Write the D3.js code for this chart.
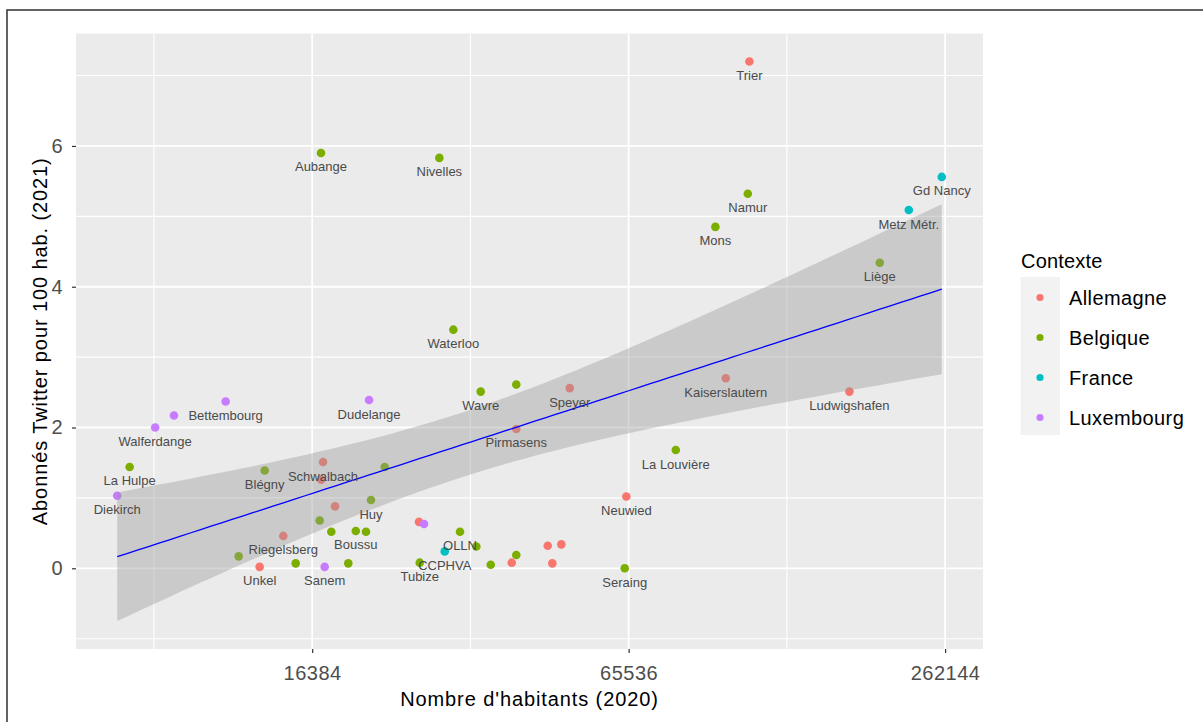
<!DOCTYPE html>
<html>
<head>
<meta charset="utf-8">
<script src="https://cdn.jsdelivr.net/npm/d3@7"></script>
<style>
  html, body { margin: 0; padding: 0; background: #ffffff; }
  svg { display: block; font-family: "Liberation Sans", Arial, sans-serif; }
</style>
</head>
<body>
<svg id="chart" width="1203" height="722"></svg>
<script>
// Communes: population 2020, Twitter followers per 100 inhabitants 2021
const names = [
  "Trier", "Aubange", "Nivelles", "Gd Nancy", "Namur", "Metz Métr.", "Mons", "Liège",
  "Waterloo", "Kaiserslautern", "Speyer", "", "Wavre", "Ludwigshafen", "Bettembourg", "Dudelange",
  "", "Walferdange", "Pirmasens", "La Louvière", "Schwalbach", "La Hulpe", "Blégny", "",
  "", "Diekirch", "Neuwied", "Huy", "", "", "", "",
  "", "Boussu", "", "OLLN", "Riegelsberg", "", "", "",
  "CCPHVA", "", "", "Tubize", "", "", "", "",
  "", "Unkel", "Sanem", "Seraing"
];
const contexts = [
  "Allemagne", "Belgique", "Belgique", "France", "Belgique", "France", "Belgique", "Belgique",
  "Belgique", "Allemagne", "Allemagne", "Belgique", "Belgique", "Allemagne", "Luxembourg", "Luxembourg",
  "Luxembourg", "Luxembourg", "Allemagne", "Belgique", "Allemagne", "Belgique", "Belgique", "Belgique",
  "Allemagne", "Luxembourg", "Allemagne", "Belgique", "Allemagne", "Belgique", "Allemagne", "Luxembourg",
  "Belgique", "Belgique", "Belgique", "Belgique", "Allemagne", "Belgique", "Allemagne", "Allemagne",
  "France", "Belgique", "Belgique", "Belgique", "Belgique", "Belgique", "Allemagne", "Allemagne",
  "Belgique", "Allemagne", "Luxembourg", "Belgique"
];
const population = [
  111230, 17030, 28600, 258340, 110450, 223600, 95820, 196900,
  30410, 100300, 50640, 40060, 34280, 172400, 11215, 21020,
  8943, 8236, 40060, 80575, 17180, 7365, 13308, 22513,
  17050, 6975, 64880, 21200, 18108, 16930, 26160, 26744,
  17816, 19833, 20740, 31310, 14435, 33630, 45980, 48800,
  29283, 40060, 11874, 26245, 15243, 19193, 39273, 46915,
  35820, 13017, 17306, 64420
];
const followers = [
  7.20, 5.90, 5.83, 5.56, 5.32, 5.09, 4.85, 4.34,
  3.39, 2.70, 2.56, 2.61, 2.51, 2.51, 2.37, 2.39,
  2.17, 2.00, 1.98, 1.68, 1.51, 1.44, 1.39, 1.44,
  1.26, 1.03, 1.02, 0.97, 0.88, 0.68, 0.66, 0.63,
  0.52, 0.53, 0.52, 0.52, 0.46, 0.31, 0.32, 0.34,
  0.24, 0.19, 0.17, 0.08, 0.07, 0.07, 0.08, 0.07,
  0.05, 0.02, 0.02, 0.00
];

const contextLevels = ["Allemagne", "Belgique", "France", "Luxembourg"];
const contextColors = ["#F8766D", "#7CAE00", "#00BFC4", "#C77CFF"];

const xMajorTicks = [16384, 65536, 262144];
const xMinorTicks = [8192, 32768, 131072];
const yMajorTicks = [0, 2, 4, 6];
const yMinorTicks = [-1, 1, 3, 5, 7];

const data = names.map((n, i) => ({
  name: n, context: contexts[i], pop: population[i], val: followers[i]
}));

// Linear model: followers ~ log2(population), with 95% confidence band
const lx = data.map(d => Math.log2(d.pop));
const ly = data.map(d => d.val);
const n = data.length;
const mx = d3.mean(lx), my = d3.mean(ly);
let sxx = 0, sxy = 0;
for (let i = 0; i < n; i++) { sxx += (lx[i] - mx) ** 2; sxy += (lx[i] - mx) * (ly[i] - my); }
const slope = sxy / sxx, intercept = my - slope * mx;
let sse = 0;
for (let i = 0; i < n; i++) sse += (ly[i] - (intercept + slope * lx[i])) ** 2;
const sigma = Math.sqrt(sse / (n - 2));
const df = n - 2, z = 1.959964;
const tq = z + (z ** 3 + z) / (4 * df) + (5 * z ** 5 + 16 * z ** 3 + 3 * z) / (96 * df * df);
const [lxMin, lxMax] = d3.extent(lx);
const fit = d3.range(80).map(k => {
  const x0 = lxMin + (lxMax - lxMin) * k / 79;
  const yhat = intercept + slope * x0;
  const se = sigma * Math.sqrt(1 / n + (x0 - mx) ** 2 / sxx);
  return { lx: x0, y: yhat, lo: yhat - tq * se, hi: yhat + tq * se };
});

// Panel geometry
const P = { left: 76, right: 983, top: 33.5, bottom: 649 };
const svg = d3.select("#chart");

const expand = (lo, hi) => { const e = (hi - lo) * 0.05; return [lo - e, hi + e]; };
const xd = expand(lxMin, lxMax);
const x = d3.scaleLog().base(2).domain([2 ** xd[0], 2 ** xd[1]]).range([P.left, P.right]);
const yLo = Math.min(d3.min(ly), d3.min(fit, d => d.lo));
const yHi = Math.max(d3.max(ly), d3.max(fit, d => d.hi));
const y = d3.scaleLinear().domain(expand(yLo, yHi)).range([P.bottom, P.top]);
const color = d3.scaleOrdinal().domain(contextLevels).range(contextColors);

// Outer frame
svg.append("rect").attr("x", 7).attr("y", 10).attr("width", 1400).attr("height", 900)
  .attr("fill", "none").attr("stroke", "#3c3c3c").attr("stroke-width", 1.6);

// Panel background and grid
svg.append("rect").attr("x", P.left).attr("y", P.top)
  .attr("width", P.right - P.left).attr("height", P.bottom - P.top).attr("fill", "#EBEBEB");

const grid = svg.append("g").attr("stroke", "#ffffff");
grid.selectAll(".ymin").data(yMinorTicks).join("line")
  .attr("x1", P.left).attr("x2", P.right).attr("y1", d => y(d)).attr("y2", d => y(d)).attr("stroke-width", 1.1);
grid.selectAll(".xmin").data(xMinorTicks).join("line")
  .attr("y1", P.top).attr("y2", P.bottom).attr("x1", d => x(d)).attr("x2", d => x(d)).attr("stroke-width", 1.1);
grid.selectAll(".ymaj").data(yMajorTicks).join("line")
  .attr("x1", P.left).attr("x2", P.right).attr("y1", d => y(d)).attr("y2", d => y(d)).attr("stroke-width", 1.8);
grid.selectAll(".xmaj").data(xMajorTicks).join("line")
  .attr("y1", P.top).attr("y2", P.bottom).attr("x1", d => x(d)).attr("x2", d => x(d)).attr("stroke-width", 1.8);

// Axes
const tickFont = g => g.selectAll(".tick text").attr("fill", "#4D4D4D").attr("font-size", 20)
  .attr("letter-spacing", 0.5).attr("font-family", "Liberation Sans, Arial, sans-serif");
const xAxis = d3.axisBottom(x).tickValues(xMajorTicks).tickFormat(d3.format("d")).tickSize(4).tickPadding(13);
const gx = svg.append("g").attr("transform", `translate(0,${P.bottom})`).call(xAxis);
gx.select(".domain").remove();
gx.selectAll(".tick line").attr("stroke", "#333333").attr("stroke-width", 1.2);
gx.call(tickFont);

const yAxis = d3.axisLeft(y).tickValues(yMajorTicks).tickSize(4).tickPadding(9);
const gy = svg.append("g").attr("transform", `translate(${P.left},0)`).call(yAxis);
gy.select(".domain").remove();
gy.selectAll(".tick line").attr("stroke", "#333333").attr("stroke-width", 1.2);
gy.call(tickFont);

// Points
svg.append("g").selectAll("circle").data(data).join("circle")
  .attr("cx", d => x(d.pop)).attr("cy", d => y(d.val)).attr("r", 4.3)
  .attr("fill", d => color(d.context));

// Confidence band and fitted line
svg.append("path").datum(fit)
  .attr("d", d3.area().x(d => x(2 ** d.lx)).y0(d => y(d.lo)).y1(d => y(d.hi)))
  .attr("fill", "#999999").attr("fill-opacity", 0.4);
svg.append("path").datum(fit)
  .attr("d", d3.line().x(d => x(2 ** d.lx)).y(d => y(d.y)))
  .attr("fill", "none").attr("stroke", "#0000FF").attr("stroke-width", 1.3);

// Point labels
svg.append("g").selectAll("text").data(data.filter(d => d.name)).join("text")
  .attr("x", d => x(d.pop)).attr("y", d => y(d.val) + 18.5)
  .attr("text-anchor", "middle").attr("font-size", 13).attr("fill", "#4a4a4a")
  .text(d => d.name);

// Axis titles
svg.append("text").attr("x", (P.left + P.right) / 2).attr("y", 706)
  .attr("text-anchor", "middle").attr("font-size", 20).attr("letter-spacing", 0.9).attr("fill", "#000")
  .text("Nombre d'habitants (2020)");
svg.append("text")
  .attr("transform", `translate(47,${(P.top + P.bottom) / 2}) rotate(-90)`)
  .attr("text-anchor", "middle").attr("font-size", 20).attr("letter-spacing", 0.9).attr("fill", "#000")
  .text("Abonnés Twitter pour 100 hab. (2021)");

// Legend
const lg = svg.append("g");
lg.append("text").attr("x", 1021).attr("y", 267.5).attr("font-size", 20).attr("letter-spacing", 0.2)
  .attr("fill", "#000").text("Contexte");
lg.append("rect").attr("x", 1020.5).attr("y", 277).attr("width", 39.5).attr("height", 158).attr("fill", "#F2F2F2");
const items = lg.selectAll(".item").data(contextLevels).join("g")
  .attr("transform", (d, i) => `translate(0,${297.5 + i * 40})`);
items.append("circle").attr("cx", 1040).attr("cy", 0).attr("r", 3.6).attr("fill", d => color(d));
items.append("text").attr("x", 1069).attr("y", 7.5).attr("font-size", 20).attr("letter-spacing", 0.4)
  .attr("fill", "#000").text(d => d);
</script>
</body>
</html>
